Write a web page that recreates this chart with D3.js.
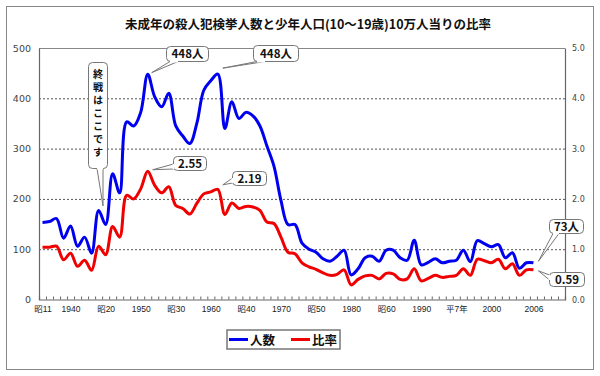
<!DOCTYPE html>
<html><head><meta charset="utf-8">
<script src="https://cdn.jsdelivr.net/npm/d3@7"></script>
<style>body{margin:0;background:#fff}svg{display:block}</style>
</head><body>
<svg id="chart" width="600" height="376"></svg>
<script>
const years = [1936,1937,1938,1939,1940,1941,1942,1943,1944,1945,1946,1947,1948,1949,1950,1951,1952,1953,1954,1955,1956,1957,1958,1959,1960,1961,1962,1963,1964,1965,1966,1967,1968,1969,1970,1971,1972,1973,1974,1975,1976,1977,1978,1979,1980,1981,1982,1983,1984,1985,1986,1987,1988,1989,1990,1991,1992,1993,1994,1995,1996,1997,1998,1999,2000,2001,2002,2003,2004,2005,2006];
const counts = [153,155,161,122,146,106,124,92,177,149,250,212,353,345,372,448,403,383,410,345,325,310,350,416,435,448,340,393,360,372,365,345,305,265,197,149,149,112,100,94,81,76,86,98,49,61,83,86,76,98,98,83,78,118,69,74,81,73,76,78,98,75,117,111,105,109,83,93,62,73,73];
const ratios = [1.04,1.04,1.06,0.79,0.92,0.66,0.78,0.58,1.06,0.89,1.45,1.24,2.07,2.00,2.20,2.55,2.27,2.12,2.24,1.87,1.81,1.70,1.91,2.10,2.14,2.19,1.69,1.92,1.81,1.85,1.84,1.77,1.54,1.51,1.24,0.94,0.91,0.73,0.65,0.60,0.53,0.48,0.50,0.59,0.29,0.40,0.47,0.48,0.41,0.52,0.51,0.40,0.41,0.61,0.37,0.42,0.48,0.44,0.46,0.48,0.61,0.48,0.80,0.77,0.73,0.80,0.61,0.71,0.48,0.59,0.59];
const xLabelYears = [1936,1940,1945,1950,1955,1960,1965,1970,1975,1980,1985,1990,1995,2000,2006];
const xLabels = ["昭11","1940","昭20","1950","昭30","1960","昭40","1970","昭50","1980","昭60","1990","平7年","2000","2006"];
const leftTicks = [0,100,200,300,400,500];
const rightTicks = [0,1,2,3,4,5];
const title = "未成年の殺人犯検挙人数と少年人口(10～19歳)10万人当りの比率";
const seriesNames = ["人数","比率"];
const colors = ["#0000f0","#f00000"];

const svg = d3.select("#chart");
const L = 39, R = 565, T = 48, B = 299.5;
const x = d3.scaleLinear().domain([1935.5, 2010.5]).range([L, R]);
const yL = d3.scaleLinear().domain([0, 500]).range([B, T]);
const yR = d3.scaleLinear().domain([0, 5]).range([B, T]);

// outer frame
svg.append("rect").attr("x",6.5).attr("y",6.5).attr("width",587).attr("height",363)
  .attr("fill","none").attr("stroke","#888").attr("stroke-width",1);

// title
svg.append("text").attr("x",308).attr("y",29).attr("text-anchor","middle")
  .attr("font-family","Noto Sans CJK JP").attr("font-weight","bold").attr("font-size",12.5)
  .attr("fill","#111").text(title);

// gridlines
svg.append("g").selectAll("line").data(leftTicks.filter(d=>d>0 && d<500)).join("line")
  .attr("x1",L).attr("x2",R).attr("y1",d=>yL(d)+0.5).attr("y2",d=>yL(d)+0.5)
  .attr("stroke","#555").attr("stroke-dasharray","2,2");
svg.append("line").attr("x1",L).attr("x2",R).attr("y1",T+0.5).attr("y2",T+0.5).attr("stroke","#888");

// axes
const gL = svg.append("g").attr("transform",`translate(${L},0)`)
  .call(d3.axisLeft(yL).tickValues(leftTicks).tickSize(0).tickPadding(8).tickFormat(d3.format("d")));
const gR = svg.append("g").attr("transform",`translate(${R},0)`)
  .call(d3.axisRight(yR).tickValues(rightTicks).tickSize(0).tickPadding(7).tickFormat(d3.format(".1f")));
const bounds = [];
for (let i = 0; i <= 75; i++) bounds.push(1935.5 + i);
const gB = svg.append("g").attr("transform",`translate(0,${B})`)
  .call(d3.axisBottom(x).tickValues(bounds).tickSize(-3).tickFormat(""));
const gBL = svg.append("g").attr("transform",`translate(0,${B})`)
  .call(d3.axisBottom(x).tickValues(xLabelYears).tickSize(0).tickPadding(6).tickFormat((d,i)=>xLabels[i]));
[gL,gR,gB,gBL].forEach(g=>{
  g.select(".domain").attr("stroke","#666").attr("stroke-width",1.2);
  g.selectAll(".tick line").attr("stroke","#666");
});
gBL.select(".domain").remove();
gL.selectAll("text").attr("font-family","DejaVu Sans").attr("font-size",9.5).attr("fill","#444");
gR.selectAll("text").attr("font-family","DejaVu Sans").attr("font-size",8).attr("fill","#444");
gBL.selectAll("text").attr("font-family","Liberation Sans, Noto Sans CJK JP").attr("font-size",8.5).attr("fill","#222");

// lines
const lineC = d3.line().x((d,i)=>x(years[i])).y(d=>yL(d)).curve(d3.curveCatmullRom.alpha(0.5));
const lineR = d3.line().x((d,i)=>x(years[i])).y(d=>yR(d)).curve(d3.curveCatmullRom.alpha(0.5));
svg.append("path").datum(ratios).attr("d",lineR).attr("fill","none").attr("stroke",colors[1]).attr("stroke-width",3).attr("stroke-linejoin","round");
svg.append("path").datum(counts).attr("d",lineC).attr("fill","none").attr("stroke",colors[0]).attr("stroke-width",3).attr("stroke-linejoin","round");

// callouts
function callout(tx, ty, bx, by, bw, bh, b1, b2, text, vertical) {
  const g = svg.append("g");
  g.append("rect").attr("x",bx+0.5).attr("y",by+0.5).attr("width",bw).attr("height",bh).attr("rx",4)
    .attr("fill","#fff").attr("stroke","#777");
  g.append("path").attr("d",`M${b1[0]},${b1[1]}L${tx},${ty}L${b2[0]},${b2[1]}`)
    .attr("fill","#fff").attr("stroke","#777");
  g.append("line").attr("x1",b1[0]).attr("y1",b1[1]).attr("x2",b2[0]).attr("y2",b2[1])
    .attr("stroke","#fff").attr("stroke-width",2);
  if (vertical) {
    g.append("text").attr("x",bx+bw/2+0.5).attr("y",by+7)
      .attr("writing-mode","vertical-rl").style("writing-mode","vertical-rl")
      .attr("letter-spacing",2.8)
      .attr("font-family","Noto Sans CJK JP").attr("font-weight","bold").attr("font-size",10.2).attr("fill","#111")
      .text(text);
  } else {
    g.append("text").attr("x",bx+bw/2+0.5).attr("y",by+bh/2+4.5).attr("text-anchor","middle")
      .attr("font-family","Noto Sans CJK JP").attr("font-weight","bold").attr("font-size",11.5).attr("fill","#111")
      .text(text);
  }
}
const i51 = years.indexOf(1951), i61 = years.indexOf(1961), iLast = years.length-1;
callout(x(1951)+4, yL(counts[i51])-1.5, 166, 46, 42, 15, [170,61.5],[178,61.5], counts[i51]+"人");
callout(x(1961)+5, yL(counts[i61])-6, 253, 45, 45, 16, [257,61.5],[265,61.5], counts[i61]+"人");
callout(x(1951)+5, yR(ratios[i51])-1.5, 173, 156, 33, 14, [173.5,164],[173.5,169], ratios[i51].toFixed(2));
callout(x(1961)+5, yR(ratios[i61])-4.5, 232, 171, 34, 14, [232.5,178],[232.5,183], ratios[i61].toFixed(2));
callout(103, yL(186), 88, 62, 19, 106, [97,168.5],[103,168.5], "終戦はここです", true);
callout(x(2006)+5, yL(counts[iLast])-1.5, 549, 219, 34, 14, [553,233.5],[559,233.5], counts[iLast]+"人");
callout(x(2006)+5, yR(ratios[iLast])+1, 549, 272, 35, 14, [549.5,275],[549.5,280], ratios[iLast].toFixed(2));

// legend
const lg = svg.append("g");
lg.append("rect").attr("x",227).attr("y",330).attr("width",113).attr("height",19)
  .attr("fill","#fff").attr("stroke","#777").attr("stroke-width",1.5);
const lx = [229, 291];
seriesNames.forEach((n,i)=>{
  lg.append("line").attr("x1",lx[i]).attr("x2",lx[i]+19).attr("y1",339.5).attr("y2",339.5)
    .attr("stroke",colors[i]).attr("stroke-width",3);
  lg.append("text").attr("x",lx[i]+21).attr("y",344.5).attr("font-family","Noto Sans CJK JP")
    .attr("font-weight","bold").attr("font-size",12.5).attr("fill","#111").text(n);
});
</script>
</body></html>
